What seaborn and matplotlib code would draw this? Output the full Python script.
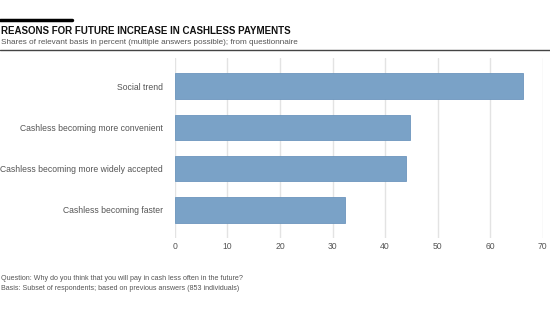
import matplotlib.pyplot as plt
import pandas as pd
import seaborn as sns

sns.set_theme(style="white")
plt.rcParams['font.family'] = ['Liberation Sans', 'DejaVu Sans']

# Data
reasons = ['Social trend', 'Cashless becoming more convenient',
           'Cashless becoming more widely accepted', 'Cashless becoming faster']
shares = [66.3, 44.7, 43.9, 32.3]
x_ticks = [0, 10, 20, 30, 40, 50, 60, 70]

df = pd.DataFrame({'Reason': reasons, 'Share': shares})

fig = plt.figure(figsize=(5.5, 3.1), dpi=100)
ax = fig.add_axes([0.318, 0.232, 0.669, 0.581])

sns.barplot(data=df, x='Share', y='Reason', color='#7aa2c7', width=0.62,
            edgecolor='#6c95bd', linewidth=0.6, saturation=1, ax=ax, zorder=3)

ax.set_xlim(0, 70)
ax.set_ylim(3.68, -0.68)
ax.set_xticks(x_ticks)
ax.grid(axis='x', color='#e3e3e3', linewidth=1, zorder=0)
for s in ax.spines.values():
    s.set_visible(False)
ax.set_xlabel('')
ax.set_ylabel('')
ax.tick_params(axis='both', length=0, labelsize=6.2, labelcolor='#555555')
ax.tick_params(axis='y', pad=8.5)
ax.tick_params(axis='x', pad=3)

# Header
fig.add_artist(plt.Line2D([0, 72 / 550], [1 - 20 / 310] * 2, color='black', linewidth=2.5))
fig.text(0.002, 1 - 31 / 310, 'REASONS FOR FUTURE INCREASE IN CASHLESS PAYMENTS',
         fontsize=7.0, fontweight='bold', color='#111111', va='center', ha='left')
fig.text(0.002, 1 - 43 / 310,
         'Shares of relevant basis in percent (multiple answers possible); from questionnaire',
         fontsize=5.9, color='#555555', va='center', ha='left')
fig.add_artist(plt.Line2D([0, 1], [1 - 50 / 310] * 2, color='#444444', linewidth=1))

# Footnotes
fig.text(0.002, 1 - 278 / 310,
         'Question: Why do you think that you will pay in cash less often in the future?',
         fontsize=5.1, color='#555555', va='center', ha='left')
fig.text(0.002, 1 - 289 / 310,
         'Basis: Subset of respondents; based on previous answers (853 individuals)',
         fontsize=5.1, color='#555555', va='center', ha='left')

fig.savefig('out.png', dpi=100)
